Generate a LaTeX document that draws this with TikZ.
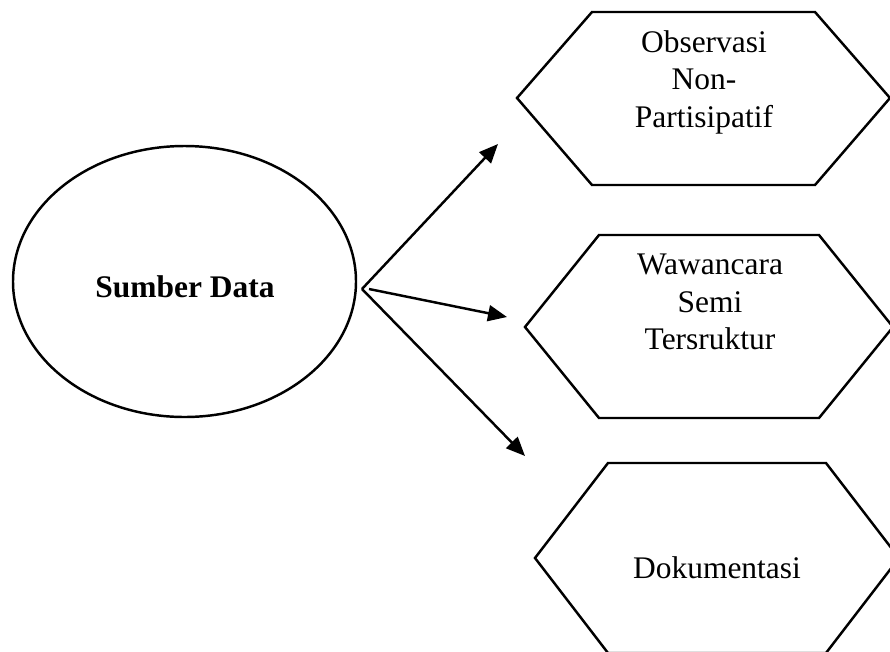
\documentclass[tikz,border=0pt]{standalone}
\usepackage{fontspec}
\setmainfont{Liberation Serif}
\usepackage{tikz}
\usetikzlibrary{shapes.geometric, arrows.meta, positioning}

\begin{document}
\begin{tikzpicture}
  [
    Oval/.style={ellipse, draw=black, line width=1.4pt, minimum width=6.86cm, minimum height=5.42cm, inner sep=0pt},
    Hexa/.style={draw=black, line width=1.4pt, line join=miter},
    Label/.style={align=center, inner sep=0pt, font=\fontsize{17.9}{21.3}\selectfont},
    Link/.style={draw, line width=1.4pt, -{Triangle[length=0.38cm, width=0.32cm]}}
  ]
  \useasboundingbox (0, 0) rectangle (17.8, -13.04);
  \clip (0, 0) rectangle (17.8, -13.04);
  % Shapes
  \node[Oval] (src) at(3.69, -5.63) {};
  \draw[Hexa] (10.34, -1.96) -- (11.84, -0.24) -- (16.30, -0.24) -- (17.80, -1.96) -- (16.30, -3.70) -- (11.84, -3.70) -- cycle;
  \draw[Hexa] (10.50, -6.54) -- (11.98, -4.70) -- (16.38, -4.70) -- (17.86, -6.54) -- (16.38, -8.36) -- (11.98, -8.36) -- cycle;
  \draw[Hexa] (10.70, -11.16) -- (12.16, -9.26) -- (16.52, -9.26) -- (17.98, -11.16) -- (16.52, -13.06) -- (12.16, -13.06) -- cycle;
  % Nodes
  \node[Label, anchor=base, font=\fontsize{17.9}{21.3}\selectfont\bfseries] (sumber) at(3.70, -5.94) {Sumber Data};
  \node[Label] (obs) at(14.08, -1.64) {Observasi\\Non-\\Partisipatif};
  \node[Label] (waw) at(14.20, -6.04) {Wawancara\\Semi\\Tersruktur};
  \node[Label, anchor=base] (dok) at(14.34, -11.56) {Dokumentasi};
  \coordinate (a0) at(7.24, -5.78);
  \coordinate (b0) at(7.38, -5.78);
  \coordinate (a1) at(9.96, -2.88);
  \coordinate (a2) at(10.14, -6.34);
  \coordinate (a3) at(10.50, -9.12);
  % Lines
  \path [Link] (a0) -- (a1);
  \path [Link] (b0) -- (a2);
  \path [Link] (a0) -- (a3);
\end{tikzpicture}
\end{document}
